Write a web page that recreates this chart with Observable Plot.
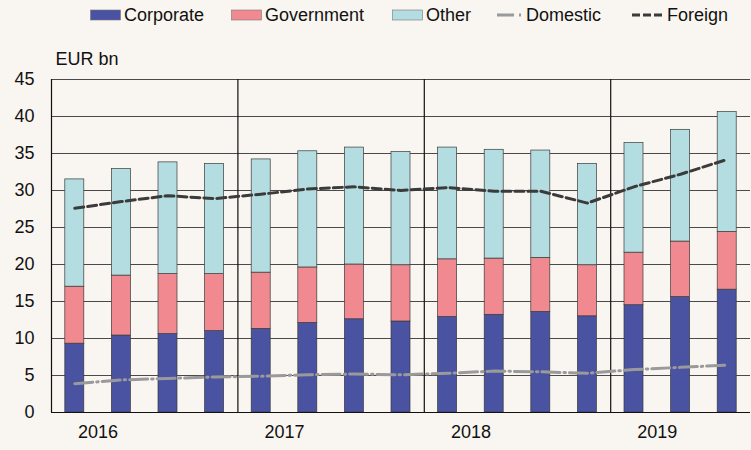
<!DOCTYPE html>
<html>
<head>
<meta charset="utf-8">
<script src="https://cdn.jsdelivr.net/npm/d3@7"></script>
<script src="https://cdn.jsdelivr.net/npm/@observablehq/plot@0.6"></script>
<style>
  html, body { margin: 0; padding: 0; background: #f9f5f0; }
  body { width: 751px; height: 450px; overflow: hidden; font-family: "Liberation Sans", Arial, sans-serif; }
  #legend { position: relative; height: 30px; font-size: 18px; color: #111; }
  .item { position: absolute; top: 4px; display: flex; align-items: center; height: 22px; white-space: nowrap; }
  .item svg { margin-right: 3px; }
</style>
</head>
<body>
<div id="legend"></div>
<div id="chart"></div>
<script>
const quarters = ["2016Q1","2016Q2","2016Q3","2016Q4","2017Q1","2017Q2","2017Q3","2017Q4","2018Q1","2018Q2","2018Q3","2018Q4","2019Q1","2019Q2","2019Q3"];
const years = ["2016","2017","2018","2019"];
const corporate  = [9.3, 10.4, 10.6, 11.0, 11.3, 12.1, 12.6, 12.3, 12.9, 13.2, 13.6, 13.0, 14.5, 15.6, 16.6];
const government = [7.7, 8.1, 8.1, 7.7, 7.6, 7.5, 7.4, 7.6, 7.8, 7.6, 7.3, 6.9, 7.1, 7.5, 7.8];
const other      = [14.5, 14.4, 15.1, 14.9, 15.3, 15.7, 15.8, 15.3, 15.1, 14.7, 14.5, 13.7, 14.8, 15.1, 16.2];
const domestic   = [3.9, 4.4, 4.6, 4.8, 4.9, 5.1, 5.2, 5.1, 5.3, 5.6, 5.5, 5.3, 5.8, 6.1, 6.4];
const foreign    = [27.6, 28.5, 29.3, 28.9, 29.5, 30.2, 30.5, 30.0, 30.4, 29.9, 29.9, 28.3, 30.5, 32.2, 34.2];
const yTicks = [0, 5, 10, 15, 20, 25, 30, 35, 40, 45];

const seriesNames = ["Corporate", "Government", "Other"];
const seriesValues = [corporate, government, other];
const colors = {Corporate: "#4a52a2", Government: "#f08a90", Other: "#b3dde0"};

// stacked rectangles built from the arrays
const stacked = [];
quarters.forEach((q, i) => {
  let base = 0;
  seriesNames.forEach((s, k) => {
    const v = seriesValues[k][i];
    stacked.push({i, quarter: q, series: s, y1: base, y2: base + v});
    base += v;
  });
});
const lineDom = quarters.map((q, i) => ({i, value: domestic[i]}));
const lineFor = quarters.map((q, i) => ({i, value: foreign[i]}));
const yearStarts = years.map((y, k) => quarters.indexOf(y + "Q1"));
const separators = yearStarts.filter(v => v > 0);

const chart = Plot.plot({
  width: 751,
  height: 420,
  marginTop: 49,
  marginBottom: 38,
  marginLeft: 51,
  marginRight: 1,
  style: {background: "transparent", fontFamily: "'Liberation Sans', Arial, sans-serif", fontSize: "18px", color: "#111"},
  x: {type: "linear", domain: [0, quarters.length], axis: null, label: null},
  y: {domain: [0, 45], axis: null, label: null},
  marks: [
    Plot.gridY(yTicks, {stroke: "#4a4a4a", strokeOpacity: 1, strokeWidth: 1.1}),
    Plot.ruleX(separators, {stroke: "#111", strokeWidth: 1.2, y1: 0, y2: 45}),
    Plot.rect(stacked, {
      x1: "i", x2: d => d.i + 1, y1: "y1", y2: "y2",
      fill: d => colors[d.series], stroke: "#3a3a3a", strokeWidth: 0.7,
      insetLeft: 13.8, insetRight: 13.8
    }),
    Plot.line(lineDom, {x: d => d.i + 0.5, y: "value", stroke: "#9a9a9a", strokeWidth: 3, strokeDasharray: "18,4,1.5,4"}),
    Plot.line(lineFor, {x: d => d.i + 0.5, y: "value", stroke: "#3b3b3b", strokeWidth: 3, strokeDasharray: "9,4"}),
    Plot.ruleX([0], {stroke: "#111", strokeWidth: 1.2, y1: 0, y2: 45}),
    Plot.ruleY([0], {stroke: "#111", strokeWidth: 1.2}),
    Plot.axisY(yTicks, {tickSize: 0, tickPadding: 17, fontSize: 18, fill: "#111", label: null}),
    Plot.axisX(yearStarts.map(v => v + 1), {tickSize: 0, tickPadding: 13, fontSize: 18, fill: "#111", label: null,
      tickFormat: d => years[yearStarts.indexOf(d - 1)]}),
    Plot.text(["EUR bn"], {frameAnchor: "top-left", dx: 4, dy: -27, textAnchor: "start", fontSize: 18, fill: "#111"})
  ]
});
document.getElementById("chart").appendChild(chart);

// legend
const legend = document.getElementById("legend");
const items = [
  {label: "Corporate", x: 90, kind: "box", color: colors.Corporate},
  {label: "Government", x: 231, kind: "box", color: colors.Government},
  {label: "Other", x: 392, kind: "box", color: colors.Other},
  {label: "Domestic", x: 497, kind: "line", color: "#9a9a9a", dash: "17,5,2,20", w: 26},
  {label: "Foreign", x: 632, kind: "line", color: "#3b3b3b", dash: "8,3", w: 32}
];
items.forEach(it => {
  const div = document.createElement("div");
  div.className = "item";
  div.style.left = it.x + "px";
  let sw;
  if (it.kind === "box") {
    sw = `<svg width="31" height="12"><rect x="0.5" y="1" width="30" height="10" fill="${it.color}" stroke="#777" stroke-width="0.6"/></svg>`;
  } else {
    sw = `<svg width="${it.w}" height="12"><line x1="0" x2="${it.w - 1}" y1="6" y2="6" stroke="${it.color}" stroke-width="3" stroke-dasharray="${it.dash}"/></svg>`;
  }
  div.innerHTML = sw + `<span>${it.label}</span>`;
  legend.appendChild(div);
});
</script>
</body>
</html>
